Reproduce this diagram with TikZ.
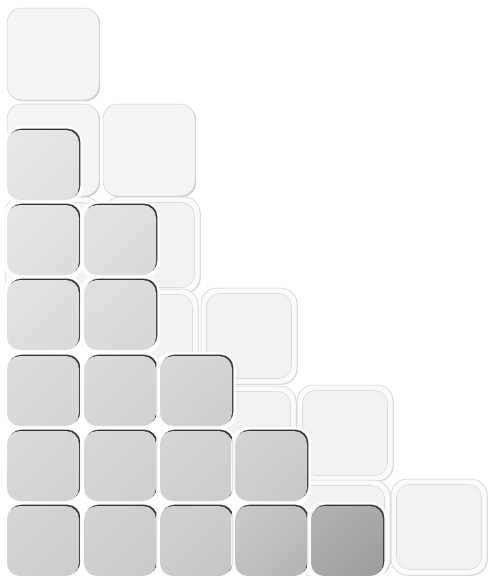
\documentclass[tikz,border=0pt]{standalone}
\usetikzlibrary{shadows,shadings}
\begin{document}
\begin{tikzpicture}[x=1pt,y=-1pt]
\useasboundingbox[fill=white] (0,0) rectangle (491,576);
\tikzset{
  flatsq/.style={draw=gray!40, line width=0.5pt, fill=black!4, rounded corners=15pt,
    minimum width=92pt, minimum height=92pt, inner sep=0pt,
    drop shadow={shadow xshift=1.2pt, shadow yshift=-1.2pt, fill=black!30, opacity=0.6}},
  rimsq/.style={draw=gray!40, line width=0.5pt, fill=black!2, rounded corners=16pt,
    minimum width=96pt, minimum height=96pt, inner sep=0pt,
    drop shadow={shadow xshift=0.8pt, shadow yshift=-0.8pt, fill=black!20, opacity=0.6}},
  facesq/.style={draw=gray!28, line width=0.6pt, fill=black!5, rounded corners=13pt,
    minimum width=85pt, minimum height=85pt, inner sep=0pt},
  glowsq/.style={fill=white, rounded corners=16pt, minimum width=80pt,
    minimum height=78pt, inner sep=0pt, opacity=0.85},
  graysq/.style={rounded corners=13pt, minimum width=72pt, minimum height=70pt, inner sep=0pt,
    drop shadow={shadow xshift=1.3pt, shadow yshift=1.3pt, fill=black!80, opacity=1}},
}
\newcommand\lightflat[3]{\node[flatsq] (#1) at (#2,#3) {};}
\newcommand\lightrim[3]{\node[rimsq] (#1) at (#2,#3) {};\node[facesq] (#1f) at (#2,#3) {};}
\newcommand\graybox[6]{\node[glowsq] (#1w) at (#2,#3) {};
  \node[graysq, upper left=black!#4, upper right=black!#5, lower left=black!#5, lower right=black!#6] (#1) at (#2,#3) {};}
% light squares
\lightflat{l0}{53}{54}
\lightflat{l1a}{53}{150}
\lightflat{l1b}{149}{150}
\lightrim{l2a}{53}{245}
\lightrim{l2b}{152}{245}
\lightrim{l3a}{150}{337}
\lightrim{l3b}{249}{336}
\lightrim{l4a}{248}{434}
\lightrim{l4b}{345}{433}
\lightrim{l5a}{342}{528}
\lightrim{l5b}{439}{527}
% gray squares
\graybox{g10}{43}{165}{9}{11}{13}
\graybox{g20}{43}{240}{10}{12}{14}
\graybox{g21}{120}{240}{11}{13}{15}
\graybox{g30}{43}{315}{11}{13}{15}
\graybox{g31}{120}{315}{12}{14}{16}
\graybox{g40}{43}{391}{13}{15}{17}
\graybox{g41}{120}{391}{14}{16}{18}
\graybox{g42}{196}{391}{15}{17}{20}
\graybox{g50}{43}{466}{14}{16}{18}
\graybox{g51}{120}{466}{15}{17}{19}
\graybox{g52}{196}{466}{16}{18}{20}
\graybox{g53}{271}{466}{17}{19}{22}
\graybox{g60}{43}{541}{16}{18}{20}
\graybox{g61}{120}{541}{17}{19}{21}
\graybox{g62}{196}{541}{18}{20}{23}
\graybox{g63}{271}{541}{21}{25}{30}
\graybox{g64}{347}{541}{30}{34}{39}
\end{tikzpicture}
\end{document}
